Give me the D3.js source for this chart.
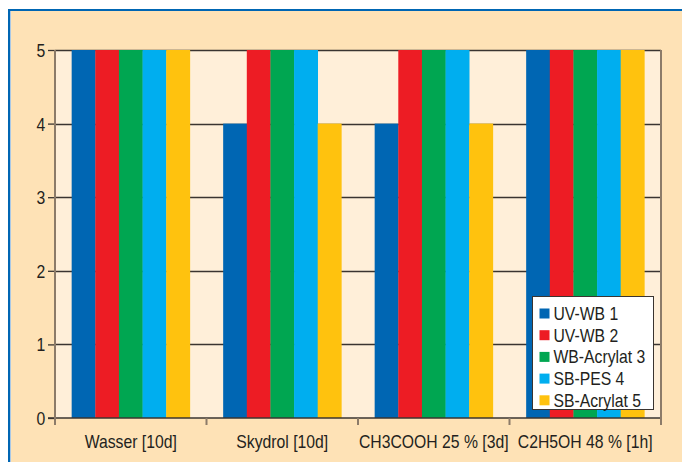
<!DOCTYPE html>
<html><head><meta charset="utf-8">
<script src="https://cdn.jsdelivr.net/npm/d3@7/dist/d3.min.js"></script>
<style>
html,body{margin:0;padding:0;background:#fff;}
svg{display:block;}
text{font-family:"Liberation Sans",Arial,sans-serif;fill:#231f20;}
</style></head>
<body>
<script>
const categories = ["Wasser [10d]", "Skydrol [10d]", "CH3COOH 25 % [3d]", "C2H5OH 48 % [1h]"];
const seriesNames = ["UV-WB 1", "UV-WB 2", "WB-Acrylat 3", "SB-PES 4", "SB-Acrylat 5"];
const seriesColors = ["#0066b3", "#ed1c24", "#00a651", "#00aeef", "#ffc20e"];
const values = [
  [5, 4, 4, 5],  // UV-WB 1
  [5, 5, 5, 5],  // UV-WB 2
  [5, 5, 5, 5],  // WB-Acrylat 3
  [5, 5, 5, 5],  // SB-PES 4
  [5, 4, 4, 5]   // SB-Acrylat 5
];
const yTicks = [0, 1, 2, 3, 4, 5];

const W = 682, H = 462;
const SX = 0.875; // condensed look
const m = {left: 55, right: 21, top: 50, bottom: 44};
const svg = d3.select("body").append("svg").attr("width", W).attr("height", H);

// outer panel
svg.append("rect").attr("x", 9).attr("y", 10).attr("width", W - 9).attr("height", H - 10).attr("fill", "#fee2b6");
svg.append("line").attr("x1", 8).attr("x2", W).attr("y1", 10).attr("y2", 10).attr("stroke", "#0066b3").attr("stroke-width", 2);
svg.append("line").attr("x1", 9).attr("x2", 9).attr("y1", 9).attr("y2", H).attr("stroke", "#0066b3").attr("stroke-width", 2);
svg.append("line").attr("x1", 10.5).attr("x2", 10.5).attr("y1", 11).attr("y2", H).attr("stroke", "#a9c8e6").attr("stroke-width", 1);

const x0 = d3.scaleBand().domain(categories).range([m.left, W - m.right]).paddingInner(0.22).paddingOuter(0.11);
const band = d3.scaleBand().domain(categories).range([m.left, W - m.right]);
const x1 = d3.scaleBand().domain(seriesNames).range([0, x0.bandwidth()]);
const y = d3.scaleLinear().domain([0, 5]).range([H - m.bottom, m.top]);

// plot background
svg.append("rect").attr("x", m.left).attr("y", m.top).attr("width", W - m.right - m.left).attr("height", H - m.bottom - m.top).attr("fill", "#ffefd9");

// gridlines
svg.append("g").selectAll("line").data(yTicks.filter(d => d > 0)).join("line")
  .attr("x1", m.left).attr("x2", W - m.right)
  .attr("y1", d => Math.round(y(d)) + 0.5).attr("y2", d => Math.round(y(d)) + 0.5)
  .attr("stroke", "#3a3430").attr("stroke-width", 1.3);

// bars
const g = svg.append("g");
categories.forEach((c, ci) => {
  seriesNames.forEach((s, si) => {
    g.append("rect")
      .attr("x", x0(c) + x1(s))
      .attr("y", y(values[si][ci]))
      .attr("width", x1.bandwidth() + 0.3)
      .attr("height", y(0) - y(values[si][ci]))
      .attr("fill", seriesColors[si]);
  });
});

// baseline
svg.append("line").attr("x1", m.left - 7).attr("x2", W - m.right).attr("y1", y(0)).attr("y2", y(0)).attr("stroke", "#3a3430").attr("stroke-width", 1.3);

// y axis
const yAxis = svg.append("g").attr("transform", `translate(${m.left},0)`)
  .call(d3.axisLeft(y).tickValues(yTicks).tickSize(7).tickPadding(4).tickFormat(d3.format("d")));
yAxis.select(".domain").remove();
yAxis.selectAll(".tick line").attr("stroke", "#3a3430").attr("stroke-width", 1.3);
yAxis.selectAll(".tick text").attr("font-size", 18).attr("fill", "#231f20").attr("dy", "0.36em")
  .attr("transform", `scale(${SX},1)`).style("font-family", '"Liberation Sans",Arial,sans-serif');
svg.append("line").attr("x1", m.left).attr("x2", m.left).attr("y1", m.top).attr("y2", y(0) + 7).attr("stroke", "#8c7b69").attr("stroke-width", 2);
svg.append("line").attr("x1", W - m.right).attr("x2", W - m.right).attr("y1", m.top).attr("y2", y(0) + 7).attr("stroke", "#8c7b69").attr("stroke-width", 2);

// x axis
const xAxis = svg.append("g").attr("transform", `translate(0,${y(0)})`)
  .call(d3.axisBottom(band).tickSize(0).tickPadding(17));
xAxis.select(".domain").remove();
xAxis.selectAll(".tick text").attr("font-size", 18).attr("fill", "#231f20")
  .attr("transform", `scale(${SX},1)`).style("font-family", '"Liberation Sans",Arial,sans-serif');
svg.append("g").selectAll("line").data(categories.slice(1)).join("line")
  .attr("x1", d => band(d)).attr("x2", d => band(d))
  .attr("y1", y(0)).attr("y2", y(0) + 7).attr("stroke", "#8c7b69").attr("stroke-width", 2);

// legend
const lg = svg.append("g").attr("transform", "translate(532.5,296.5)");
lg.append("rect").attr("width", 121).attr("height", 113).attr("fill", "#fff").attr("stroke", "#3a3430").attr("stroke-width", 1);
seriesNames.forEach((s, i) => {
  const cy = 17 + i * 21.7;
  lg.append("rect").attr("x", 7).attr("y", cy - 5).attr("width", 10).attr("height", 10).attr("fill", seriesColors[i]);
  lg.append("text").attr("transform", `translate(21,${cy}) scale(${SX},1)`).attr("dy", "0.36em").attr("font-size", 18).text(s);
});
</script>
</body></html>
